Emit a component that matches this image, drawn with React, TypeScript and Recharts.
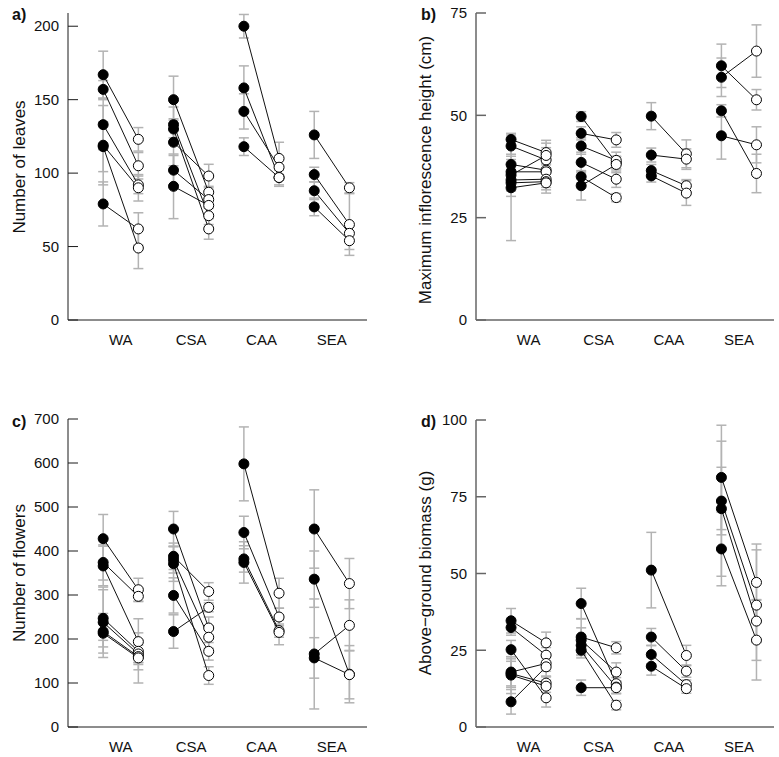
import { ErrorBar, Scatter, ScatterChart, XAxis, YAxis } from 'recharts';

const groups = ['WA', 'CSA', 'CAA', 'SEA'];

// filled = before, open = after; pairs matched by index inside each group
const leavesBefore = [[167, 157, 133, 119, 118, 79], [150, 133, 130, 121, 102, 91], [200, 158, 142, 118], [126, 99, 88, 77]];
const leavesAfter = [[123, 105, 92, 90, 49, 62], [87, 71, 62, 98, 82, 78], [110, 97, 104, 97], [90, 65, 59, 54]];
const leavesBeforeErr = [[16, 6, 17, 27, 17, 15], [16, 12, 6, 16, 10, 22], [8, 15, 12, 6], [16, 5, 6, 6]];
const leavesAfterErr = [[8, 9, 6, 9, 14, 11], [4, 6, 7, 8, 6, 6], [11, 5, 5, 6], [3.5, 21, 5, 6]];

const heightBefore = [[44.1, 42.5, 38.0, 36.2, 35.4, 34.2, 33.5, 32.3], [49.7, 45.6, 42.5, 38.5, 35.0, 32.8], [49.8, 40.3, 36.5, 35.2], [62.1, 59.3, 51.1, 45.0]];
const heightAfter = [[40.9, 39.1, 36.6, 36.2, 40.2, 34.4, 33.8, 33.5], [38.4, 44.0, 39.0, 34.4, 29.9, 38.0], [40.6, 39.3, 32.8, 31.0], [53.8, 65.7, 35.8, 42.8]];
const heightBeforeErr = [[1.5, 2, 2, 3, 2, 4, 2, 12.9], [1.2, 1.6, 2, 2.5, 1.5, 3.5], [3.3, 1.7, 1.5, 1.5], [5.3, 4.7, 1.5, 5.7]];
const heightAfterErr = [[3, 3, 2.5, 2, 3, 2, 2, 2.5], [1.5, 1.8, 2, 2, 1, 2], [3.4, 2.5, 1.5, 3], [2.5, 6.4, 4.7, 4.4]];

const flowersBefore = [[428, 374, 366, 247, 238, 217, 213], [450, 388, 380, 371, 299, 217], [598, 442, 382, 374], [450, 336, 166, 157]];
const flowersAfter = [[312, 297, 194, 172, 166, 160, 157], [225, 308, 204, 117, 172, 272], [304, 250, 219, 215], [326, 120, 231, 119]];
const flowersBeforeErr = [[55, 40, 45, 65, 80, 20, 45], [40, 30, 30, 40, 40, 38], [84, 37, 30, 47], [89, 64, 125, 46]];
const flowersAfterErr = [[26, 12, 52, 25, 20, 30, 57], [25, 20, 25, 20, 20, 10], [34, 20, 15, 28], [57, 65, 58, 55]];

const biomassBefore = [[34.6, 32.4, 25.2, 17.9, 17.4, 16.9, 8.2], [40.2, 29.3, 28.3, 26.6, 25.0, 12.8], [51.1, 29.3, 23.6, 19.8], [81.3, 73.6, 71.1, 58.0]];
const biomassAfter = [[27.4, 23.4, 9.5, 20.7, 14.3, 13.3, 19.6], [14.1, 25.8, 17.9, 13.0, 7.1, 12.8], [23.3, 18.2, 13.8, 12.5], [47.1, 39.7, 34.5, 28.3]];
const biomassBeforeErr = [[4, 2.5, 3, 5, 4, 6, 4], [5, 6, 4, 3, 2.5, 2.5], [12.3, 2.8, 3, 2.9], [17, 11, 22, 12]];
const biomassAfterErr = [[3.5, 2.5, 3, 2.5, 2, 2, 3], [2, 2, 3, 2, 1.5, 2], [3.3, 2, 1.5, 1.5], [12.5, 18, 7, 13]];

type Pt = { x: number; y: number; err: number };

function build(before: number[][], after: number[][], beforeErr: number[][], afterErr: number[][]) {
  const filled: Pt[] = [];
  const open: Pt[] = [];
  const pairs: Pt[][] = [];
  before.forEach((vals, g) =>
    vals.forEach((v, i) => {
      const a = { x: g + 0.75, y: v, err: beforeErr[g][i] };
      const b = { x: g + 1.25, y: after[g][i], err: afterErr[g][i] };
      filled.push(a);
      open.push(b);
      pairs.push([a, b]);
    })
  );
  return { filled, open, pairs };
}

const Nothing = () => <g />;
const FilledDot = (p: any) => <circle cx={p.cx} cy={p.cy} r={5} fill="#000" stroke="#000" strokeWidth={1} />;
const OpenDot = (p: any) => <circle cx={p.cx} cy={p.cy} r={5} fill="#fff" stroke="#000" strokeWidth={1} />;

const YTick = (p: any) => (
  <g>
    <line x1={p.x} x2={p.x + 10} y1={p.y} y2={p.y} stroke={p.color} strokeWidth={p.sw} />
    <text x={p.x - 9} y={p.y} dy="0.35em" textAnchor="end" fontSize={15} fill="#111">
      {p.payload.value}
    </text>
  </g>
);

function Panel(props: any) {
  const { left, top, width, height, margin, yWidth, yMax, yTicks, data, axisColor, axisWidth } = props;
  return (
    <div style={{ position: 'absolute', left, top }}>
      <ScatterChart width={width} height={height} margin={margin}>
        <XAxis
          type="number"
          dataKey="x"
          domain={[0.25, 4.5]}
          ticks={[1, 2, 3, 4]}
          interval={0}
          allowDataOverflow
          tickFormatter={(v: number) => groups[v - 1]}
          axisLine={{ stroke: axisColor, strokeWidth: axisWidth }}
          tickLine={false}
          tickSize={0}
          tickMargin={14}
          height={30}
          tick={{ fontSize: 15, fill: '#111' }}
        />
        <YAxis
          type="number"
          dataKey="y"
          domain={[0, yMax]}
          ticks={yTicks}
          interval={0}
          allowDataOverflow
          width={yWidth}
          axisLine={{ stroke: axisColor, strokeWidth: axisWidth }}
          tickLine={false}
          tickSize={0}
          tickMargin={0}
          tick={(p: any) => <YTick {...p} color={axisColor} sw={axisWidth} />}
        />
        <Scatter data={[...data.filled, ...data.open]} shape={Nothing} isAnimationActive={false}>
          <ErrorBar dataKey="err" direction="y" width={5} stroke="#b3b3b3" strokeWidth={1.5} isAnimationActive={false} />
        </Scatter>
        {data.pairs.map((pair: Pt[], i: number) => (
          <Scatter key={i} data={pair} line={{ stroke: '#111', strokeWidth: 1 }} shape={Nothing} isAnimationActive={false} />
        ))}
        <Scatter data={data.filled} shape={FilledDot} isAnimationActive={false} />
        <Scatter data={data.open} shape={OpenDot} isAnimationActive={false} />
      </ScatterChart>
    </div>
  );
}

const leaves = build(leavesBefore, leavesAfter, leavesBeforeErr, leavesAfterErr);
const height = build(heightBefore, heightAfter, heightBeforeErr, heightAfterErr);
const flowers = build(flowersBefore, flowersAfter, flowersBeforeErr, flowersAfterErr);
const biomass = build(biomassBefore, biomassAfter, biomassBeforeErr, biomassAfterErr);

export default function App() {
  return (
    <div
      style={{
        position: 'absolute',
        left: 0,
        top: 0,
        width: 779,
        height: 757,
        background: '#fff',
        fontFamily: '"Liberation Sans", Arial, sans-serif',
      }}
    >
      <Panel left={0} top={0} width={390} height={370} margin={{ top: 13, right: 23, bottom: 20, left: 0 }}
        yWidth={68} yMax={209} yTicks={[0, 50, 100, 150, 200]} data={leaves} axisColor="#1a1a1a" axisWidth={1} />
      <Panel left={390} top={0} width={389} height={370} margin={{ top: 13, right: 5, bottom: 20, left: 0 }}
        yWidth={86} yMax={75} yTicks={[0, 25, 50, 75]} data={height} axisColor="#666" axisWidth={1.5} />
      <Panel left={0} top={370} width={390} height={387} margin={{ top: 49, right: 23, bottom: 0, left: 0 }}
        yWidth={68} yMax={700} yTicks={[0, 100, 200, 300, 400, 500, 600, 700]} data={flowers} axisColor="#1a1a1a" axisWidth={1} />
      <Panel left={390} top={370} width={389} height={387} margin={{ top: 50, right: 5, bottom: 0, left: 0 }}
        yWidth={86} yMax={100} yTicks={[0, 25, 50, 75, 100]} data={biomass} axisColor="#666" axisWidth={1.5} />
      <svg width={779} height={757} style={{ position: 'absolute', left: 0, top: 0, pointerEvents: 'none' }}>
        <g fontSize={16} fontWeight="bold" fill="#111">
          <text x={12} y={20}>a)</text>
          <text x={421} y={20}>b)</text>
          <text x={12} y={427}>c)</text>
          <text x={421} y={427}>d)</text>
        </g>
        <g fontSize={17} fill="#111" textAnchor="middle" dominantBaseline="central">
          <text x={19} y={167} transform="rotate(-90, 19, 167)">Number of leaves</text>
          <text x={425} y={170} transform="rotate(-90, 425, 170)">Maximum inflorescence height (cm)</text>
          <text x={19} y={573} transform="rotate(-90, 19, 573)">Number of flowers</text>
          <text x={425} y={573} transform="rotate(-90, 425, 573)">Above−ground biomass (g)</text>
        </g>
      </svg>
    </div>
  );
}
